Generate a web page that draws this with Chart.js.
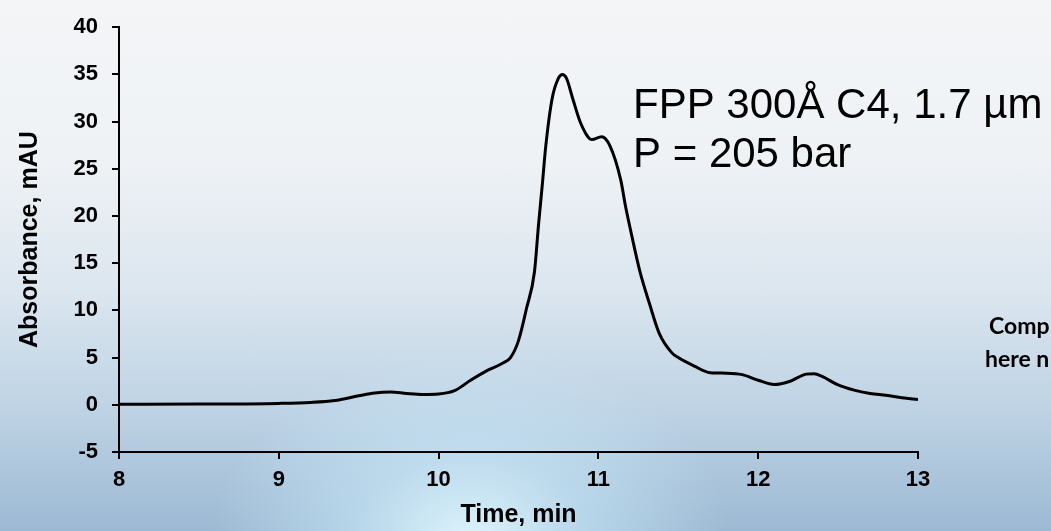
<!DOCTYPE html>
<html>
<head>
<meta charset="utf-8">
<script src="https://cdn.jsdelivr.net/npm/chart.js@4/dist/chart.umd.min.js"></script>
<style>
  html, body { margin: 0; padding: 0; }
  body {
    width: 1051px; height: 531px; overflow: hidden;
    background:
      radial-gradient(ellipse 260px 200px at 470px 545px, rgba(225,248,255,0.95) 0%, rgba(200,232,248,0.6) 45%, rgba(190,220,240,0) 100%),
      linear-gradient(to bottom, #f3f5f7 0%, #eff2f5 30%, #dbe6ef 55%, #bdd2e4 78%, #9cb9d3 100%);
  }
  #wrap { position: absolute; left: 0; top: 0; width: 1051px; height: 531px; }
</style>
</head>
<body>
<div id="wrap"><canvas id="c" width="1051" height="531"></canvas></div>
<script>
// Retention time (min)
const times = [
  8.0, 8.5, 9.0, 9.2, 9.35, 9.5, 9.6, 9.7, 9.8, 9.9, 10.0, 10.1, 10.2, 10.3, 10.4, 10.45,
  10.5, 10.55, 10.6, 10.625, 10.65, 10.67, 10.71, 10.75, 10.775, 10.8, 10.84, 10.89, 10.96,
  11.02, 11.07, 11.14, 11.17, 11.2, 11.26, 11.32, 11.38, 11.46, 11.5, 11.6, 11.7, 11.8, 11.9,
  12.0, 12.1, 12.2, 12.3, 12.35, 12.4, 12.5, 12.6, 12.7, 12.8, 12.9, 13.0
];
// Absorbance (mAU)
const absorbance = [
  0.05, 0.08, 0.15, 0.25, 0.45, 0.95, 1.25, 1.35, 1.2, 1.1, 1.15, 1.5, 2.6, 3.6, 4.4, 5.0,
  6.8, 10.2, 14.1, 19.0, 23.5, 27.3, 32.4, 34.6, 35.0, 34.6, 32.4, 29.8, 28.1,
  28.4, 27.5, 23.8, 21.0, 18.6, 14.1, 10.7, 7.6, 5.5, 5.0, 4.1, 3.4, 3.35, 3.2,
  2.6, 2.15, 2.5, 3.25, 3.3, 3.0, 2.1, 1.55, 1.2, 1.0, 0.75, 0.55
];
const xTickValues = [8, 9, 10, 11, 12, 13];
const yTickValues = [-5, 0, 5, 10, 15, 20, 25, 30, 35, 40];
const xTitle = 'Time, min';
const yTitle = 'Absorbance, mAU';
const noteLines = ['FPP 300Å C4, 1.7 µm', 'P = 205 bar'];
const sideLines = ['Comp', 'here n'];

const FONT = '"Liberation Sans", Arial, Helvetica, sans-serif';

const annot = {
  id: 'annot',
  afterDraw(chart) {
    const ctx = chart.ctx;
    ctx.save();
    ctx.fillStyle = '#000';
    ctx.textAlign = 'left';
    ctx.textBaseline = 'alphabetic';
    ctx.font = '42px ' + FONT;
    ctx.fillText(noteLines[0], 633, 118);
    ctx.fillText(noteLines[1], 633, 167);
    ctx.font = 'bold 23px Lato, "Open Sans", sans-serif';
    ctx.fillText(sideLines[0], 989, 334);
    ctx.fillText(sideLines[1], 985, 367);
    ctx.restore();
  }
};

new Chart(document.getElementById('c'), {
  type: 'line',
  data: {
    datasets: [{
      data: times.map((t, i) => ({ x: t, y: absorbance[i] })),
      borderColor: '#000',
      borderWidth: 3,
      pointRadius: 0,
      fill: false,
      cubicInterpolationMode: 'monotone'
    }]
  },
  options: {
    responsive: false,
    animation: false,
    events: [],
    layout: { padding: { left: 0, top: 19, right: 133, bottom: 0 } },
    plugins: { legend: { display: false }, tooltip: { enabled: false } },
    scales: {
      x: {
        type: 'linear',
        min: 8, max: 13,
        afterBuildTicks: (s) => { s.ticks = xTickValues.map(v => ({ value: v })); },
        afterFit: (s) => { s.height = 79; },
        grid: { drawOnChartArea: false, drawTicks: true, tickLength: 7, color: '#000', lineWidth: 2 },
        border: { display: true, color: '#000', width: 2 },
        ticks: { color: '#000', padding: 8, font: { family: FONT, size: 22, weight: 'bold' }, maxRotation: 0 },
        title: { display: true, text: xTitle, color: '#000', padding: { top: 0, bottom: 1 }, font: { family: FONT, size: 25, weight: 'bold' } }
      },
      y: {
        type: 'linear',
        min: -5, max: 40,
        afterBuildTicks: (s) => { s.ticks = yTickValues.map(v => ({ value: v })); },
        afterFit: (s) => { s.width = 119; },
        grid: { drawOnChartArea: false, drawTicks: true, tickLength: 7, color: '#000', lineWidth: 2 },
        border: { display: true, color: '#000', width: 2 },
        ticks: { color: '#000', padding: 14, font: { family: FONT, size: 22, weight: 'bold' } },
        title: { display: true, text: yTitle, color: '#000', padding: { top: 15, bottom: 0 }, font: { family: FONT, size: 25, weight: 'bold' } }
      }
    }
  },
  plugins: [annot]
});
</script>
</body>
</html>
